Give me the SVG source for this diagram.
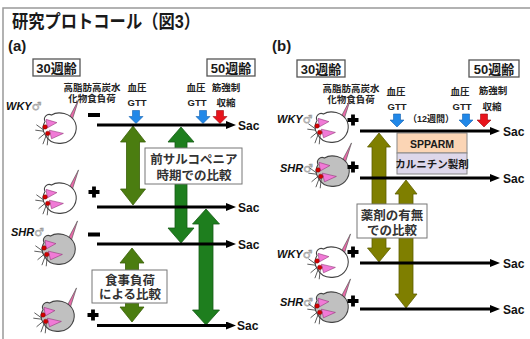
<svg xmlns="http://www.w3.org/2000/svg" xmlns:xlink="http://www.w3.org/1999/xlink" width="530" height="339" viewBox="0 0 530 339">
<style>
  text{font-family:"Liberation Sans","Noto Sans CJK JP",sans-serif;font-weight:bold;fill:#1a1a1a}
  .t{font-size:9.5px;text-anchor:middle;fill:#222}
  .wk{font-size:13px;text-anchor:middle}
  .box{fill:#fff;stroke:#555;stroke-width:1.3}
  .lbl{fill:#fff;stroke:#777;stroke-width:1}
  .lt{font-size:12.5px;text-anchor:middle;fill:#333}
  .tl{stroke:#000;stroke-width:3;fill:none;marker-end:url(#ah)}
  .sac{font-size:12px;fill:#111}
  .strain{font-size:11px;font-style:italic;fill:#111}
  .sym{font-family:"DejaVu Sans",sans-serif;font-style:normal;font-weight:normal;font-size:11px;fill:#fff;stroke:#999;stroke-width:0.6}
  .ga{fill:#4b7d10;stroke:#3a6008;stroke-width:0.8}
  .gb{fill:#1e7e1e;stroke:#155c15;stroke-width:0.8}
  .oa{fill:#7f7f00;stroke:#5e5e00;stroke-width:0.8}
  .blue{fill:#2188e8;stroke:#1462b0;stroke-width:0.6}
  .red{fill:#e8141c;stroke:#a00c10;stroke-width:0.6}
</style>
<defs>
  <marker id="ah" markerWidth="10" markerHeight="8" refX="5" refY="4" orient="auto" markerUnits="userSpaceOnUse">
    <path d="M0,0 L10,4 L0,8 Z" fill="#000"/>
  </marker>
  <path id="dn" d="M-3.5,0 H3.5 V6 H7 L0,13 L-7,6 H-3.5 Z"/>
  <path id="plus" d="M-1.9,-5.5 H1.9 V-1.9 H5.5 V1.9 H1.9 V5.5 H-1.9 V1.9 H-5.5 V-1.9 H-1.9 Z" fill="#000"/>
  <rect id="minus" x="-6" y="-2" width="12" height="4" fill="#000"/>
  <!-- mouse seen from above; body colour comes from the use element -->
  <g id="mouse">
    <path d="M10,-9 L13,-7 L19,-26 Z" fill="#e86aa8" stroke="#555" stroke-width="0.6"/>
    <path d="M-12,-6 C-14,-10 -10,-14 -6,-12 C0,-16 12,-14 16,-5 C19,3 14,13 4,14 C-3,15 -9,12 -12,6 C-15,2 -14,-3 -12,-6 Z" stroke="#444" stroke-width="1"/>
    <path d="M-11,-8 L-1,-5 L-10,0 Z" fill="#f07ad6" stroke="#8a2d70" stroke-width="0.5"/>
    <path d="M-8,2 L5,5 L-6,10 Z" fill="#f07ad6" stroke="#8a2d70" stroke-width="0.5"/>
    <circle cx="-12" cy="-1" r="2.1" fill="#d40000" stroke="#600" stroke-width="0.4"/>
    <circle cx="-9.5" cy="5" r="2.1" fill="#d40000" stroke="#600" stroke-width="0.4"/>
    <g stroke="#444" stroke-width="0.8" fill="none">
      <path d="M-13,2 L-20,-3 M-13,3 L-21,2 M-12,5 L-18,10 M-11,7 L-14,15 M-9,7 L-10,16"/>
    </g>
  </g>
</defs>

<!-- outer frame -->
<path d="M3,339 V8 H530" fill="none" stroke="#999" stroke-width="1.5"/>

<g id="title">
  <text x="12" y="28" font-size="18.5" textLength="188" lengthAdjust="spacingAndGlyphs">研究プロトコール（図3）</text>
  <text x="8" y="51" font-size="15">(a)</text>
  <text x="272" y="51" font-size="15">(b)</text>
</g>

<!-- ===== panel (a) ===== -->
<g id="a-ages">
  <rect class="box" x="33" y="59" width="47" height="17"/>
  <text class="wk" x="56.5" y="72.5">30週齢</text>
  <rect class="box" x="207" y="59" width="48" height="17"/>
  <text class="wk" x="231" y="72.5">50週齢</text>
</g>
<g id="a-header">
  <text class="t" x="92" y="91">高脂肪高炭水</text>
  <text class="t" x="92" y="102">化物食負荷</text>
  <text class="t" x="137" y="91">血圧</text>
  <text class="t" x="137" y="106">GTT</text>
  <text class="t" x="196" y="91">血圧</text>
  <text class="t" x="197" y="106">GTT</text>
  <text class="t" x="226" y="91">筋強制</text>
  <text class="t" x="226" y="106">収縮</text>
  <use xlink:href="#dn" class="blue" x="136" y="110.5"/>
  <use xlink:href="#dn" class="blue" x="203" y="110.5"/>
  <use xlink:href="#dn" class="red" x="220" y="110.5"/>
</g>

<g id="a-compare">
  <path class="ga" d="M133,126 L145.5,142 L139.5,142 L139.5,189 L145.5,189 L133,205 L120.5,189 L126.5,189 L126.5,142 L120.5,142 Z"/>
  <path class="gb" d="M181,127 L194,142 L187,142 L187,228 L194,228 L181,243 L168,228 L175,228 L175,142 L168,142 Z"/>
  <path class="gb" d="M206,209 L219.5,224 L213,224 L213,310 L219.5,310 L206,325 L192.5,310 L199,310 L199,224 L192.5,224 Z"/>
  <path class="ga" d="M132,248 L144,263 L138.5,263 L138.5,307 L144,307 L132,322 L120,307 L125.5,307 L125.5,263 L120,263 Z"/>
</g>

<g id="a-timelines">
  <path class="tl" d="M97,125 H231"/>
  <path class="tl" d="M97,207 H231"/>
  <path class="tl" d="M97,244 H231"/>
  <path class="tl" d="M97,325.5 H231"/>
  <text class="sac" x="238" y="129.5">Sac</text>
  <text class="sac" x="238" y="211.5">Sac</text>
  <text class="sac" x="238" y="248.5">Sac</text>
  <text class="sac" x="237" y="330">Sac</text>
</g>

<g id="a-box-sarco">
  <rect class="lbl" x="145" y="148" width="97" height="36"/>
  <text class="lt" x="194" y="164">前サルコペニア</text>
  <text class="lt" x="194" y="179.5">時期での比較</text>
</g>
<g id="a-box-diet">
  <rect class="lbl" x="92" y="270" width="75" height="33"/>
  <text class="lt" x="130" y="284.5">食事負荷</text>
  <text class="lt" x="130" y="299">による比較</text>
</g>

<g id="a-wky-minus">
  <text class="strain" x="6" y="110">WKY<tspan class="sym">♂</tspan></text>
  <use xlink:href="#mouse" fill="#fff" transform="translate(58,128) scale(1.08)"/>
  <use xlink:href="#minus" x="94" y="115"/>
</g>
<g id="a-wky-plus">
  <use xlink:href="#mouse" fill="#fff" transform="translate(58,198) scale(1.08)"/>
  <use xlink:href="#plus" x="94" y="192"/>
</g>
<g id="a-shr-minus">
  <text class="strain" x="11" y="236">SHR<tspan class="sym">♂</tspan></text>
  <use xlink:href="#mouse" fill="#c0c0c0" transform="translate(57,249) scale(1.08)"/>
  <use xlink:href="#minus" x="94" y="234.5"/>
</g>
<g id="a-shr-plus">
  <use xlink:href="#mouse" fill="#c0c0c0" transform="translate(56,316) scale(1.08)"/>
  <use xlink:href="#plus" x="93" y="315"/>
</g>

<!-- ===== panel (b) ===== -->
<g id="b-ages">
  <rect class="box" x="297" y="60" width="48" height="17"/>
  <text class="wk" x="321" y="73.5">30週齢</text>
  <rect class="box" x="469" y="60" width="50" height="17"/>
  <text class="wk" x="494" y="73.5">50週齢</text>
</g>
<g id="b-header">
  <text class="t" x="351" y="92">高脂肪高炭水</text>
  <text class="t" x="351" y="103">化物食負荷</text>
  <text class="t" x="396" y="95">血圧</text>
  <text class="t" x="397" y="110">GTT</text>
  <text class="t" x="460" y="95">血圧</text>
  <text class="t" x="462" y="110">GTT</text>
  <text class="t" x="493" y="94">筋強制</text>
  <text class="t" x="492" y="110">収縮</text>
  <text class="t" x="431" y="122" textLength="46" lengthAdjust="spacingAndGlyphs">（12週間）</text>
  <use xlink:href="#dn" class="blue" x="397" y="114"/>
  <use xlink:href="#dn" class="blue" x="466" y="114"/>
  <use xlink:href="#dn" class="red" x="484" y="114"/>
</g>

<g id="b-drugs">
  <rect x="397" y="133" width="70" height="20" fill="#fbd5b5" stroke="#888" stroke-width="1"/>
  <text x="432" y="147.5" font-size="10.5" text-anchor="middle" fill="#333">SPPARM</text>
  <rect x="397" y="153" width="70" height="21" fill="#ddd7ea" stroke="#888" stroke-width="1"/>
  <text x="432" y="168" font-size="10.5" text-anchor="middle" fill="#444">カルニチン製剤</text>
</g>

<g id="b-compare">
  <path class="oa" d="M379,133 L390.5,147 L386,147 L386,248 L390.5,248 L379,262 L367.5,248 L372,248 L372,147 L367.5,147 Z"/>
  <path class="oa" d="M406,180 L417,194 L413,194 L413,294 L417,294 L406,308 L395,294 L399,294 L399,194 L395,194 Z"/>
</g>

<g id="b-timelines">
  <path class="tl" d="M360,131 H495"/>
  <path class="tl" d="M360,178 H495"/>
  <path class="tl" d="M360,263 H495"/>
  <path class="tl" d="M360,309 H495"/>
  <text class="sac" x="503" y="135.5">Sac</text>
  <text class="sac" x="503" y="182.5">Sac</text>
  <text class="sac" x="503" y="267.5">Sac</text>
  <text class="sac" x="503" y="313.5">Sac</text>
</g>

<g id="b-box-drug">
  <rect class="lbl" x="357" y="204" width="70" height="34"/>
  <text class="lt" x="392" y="220">薬剤の有無</text>
  <text class="lt" x="392" y="235">での比較</text>
</g>

<g id="b-wky-1">
  <text class="strain" x="277" y="123">WKY<tspan class="sym">♂</tspan></text>
  <use xlink:href="#mouse" fill="#fff" transform="translate(330,127) scale(1.08)"/>
  <use xlink:href="#plus" x="353" y="120"/>
</g>
<g id="b-shr-1">
  <text class="strain" x="280" y="172">SHR<tspan class="sym">♂</tspan></text>
  <use xlink:href="#mouse" fill="#c0c0c0" transform="translate(331,171) scale(1.08)"/>
  <use xlink:href="#plus" x="353" y="167"/>
</g>
<g id="b-wky-2">
  <text class="strain" x="277" y="258">WKY<tspan class="sym">♂</tspan></text>
  <use xlink:href="#mouse" fill="#fff" transform="translate(330,262) scale(1.08)"/>
  <use xlink:href="#plus" x="353" y="252"/>
</g>
<g id="b-shr-2">
  <text class="strain" x="280" y="306">SHR<tspan class="sym">♂</tspan></text>
  <use xlink:href="#mouse" fill="#c0c0c0" transform="translate(330,307) scale(1.08)"/>
  <use xlink:href="#plus" x="353" y="301"/>
</g>
</svg>
